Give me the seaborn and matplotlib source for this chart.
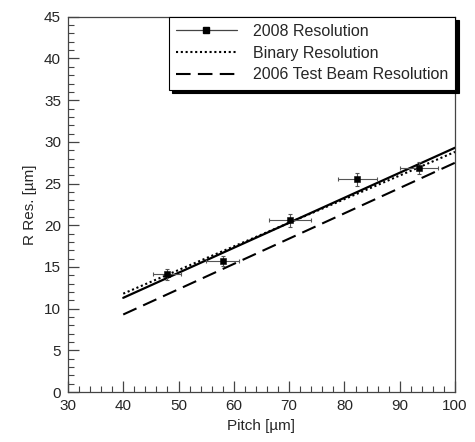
import numpy as np
import pandas as pd
import matplotlib
matplotlib.use("Agg")
import matplotlib.pyplot as plt
from matplotlib.lines import Line2D
from matplotlib.ticker import MultipleLocator
import seaborn as sns

# datos
pitch = [47.9, 58.0, 70.1, 82.3, 93.5]
res_2008 = [14.1, 15.7, 20.6, 25.5, 26.9]
pitch_err = [2.5, 3.0, 3.8, 3.5, 3.4]
res_err = [0.7, 0.6, 0.75, 0.75, 0.7]

fit_x = [40, 100]
fit_2008 = [11.3, 29.3]
fit_binary = [11.8, 28.8]
fit_2006 = [9.3, 27.5]

sns.set_style("ticks")
plt.rcParams["font.family"] = ["Liberation Sans", "DejaVu Sans"]

fig = plt.figure(figsize=(4.75, 4.42), dpi=100)
ax = fig.add_axes([0.143, 0.113, 0.815, 0.849])

lineas = pd.DataFrame({"x": fit_x, "a": fit_2008, "b": fit_binary, "c": fit_2006})
sns.lineplot(data=lineas, x="x", y="a", ax=ax, color="black", lw=1.6)
sns.lineplot(data=lineas, x="x", y="b", ax=ax, color="black", lw=1.5, linestyle=(0, (1, 1.3)))
sns.lineplot(data=lineas, x="x", y="c", ax=ax, color="black", lw=1.5, linestyle=(0, (7, 3.5)))

ax.errorbar(pitch, res_2008, xerr=pitch_err, yerr=res_err, fmt="none",
            ecolor="#555555", elinewidth=0.8, capsize=1.5, capthick=0.8, zorder=3)
sns.scatterplot(x=pitch, y=res_2008, ax=ax, marker="s", color="black", s=22,
                edgecolor="black", zorder=4)

ax.set_xlim(30, 100)
ax.set_ylim(0, 45)
ax.xaxis.set_major_locator(MultipleLocator(10))
ax.xaxis.set_minor_locator(MultipleLocator(2))
ax.yaxis.set_major_locator(MultipleLocator(5))
ax.yaxis.set_minor_locator(MultipleLocator(1))
ax.tick_params(which="major", direction="in", length=8, width=0.9, color="#444444",
               labelsize=11, pad=5)
ax.tick_params(which="minor", direction="in", length=4.5, width=0.8, color="#444444")
for s in ax.spines.values():
    s.set_color("#444444")
    s.set_linewidth(0.9)

ax.set_xlabel("Pitch [µm]", fontsize=11, labelpad=4)
ax.set_ylabel("R Res. [µm]", fontsize=11, labelpad=5)

handles = [
    Line2D([], [], color="#444444", lw=0.9, marker="s", markersize=4,
           markerfacecolor="black", markeredgecolor="black"),
    Line2D([], [], color="black", lw=1.5, linestyle=(0, (1, 1.3))),
    Line2D([], [], color="black", lw=1.5, linestyle=(0, (7, 3.5))),
]
labels = ["2008 Resolution", "Binary Resolution", "2006 Test Beam Resolution"]
leg = ax.legend(handles, labels, loc="upper right", bbox_to_anchor=(1.0, 1.0),
                borderaxespad=0, fontsize=11.5, handlelength=3.8, handletextpad=1.0,
                labelspacing=0.42, borderpad=0.45, fancybox=False, framealpha=1,
                edgecolor="black",
                shadow={"ox": 2.5, "oy": -2.5, "color": "black", "alpha": 1})
leg.get_frame().set_linewidth(0.8)

fig.savefig("out.png", dpi=100)
